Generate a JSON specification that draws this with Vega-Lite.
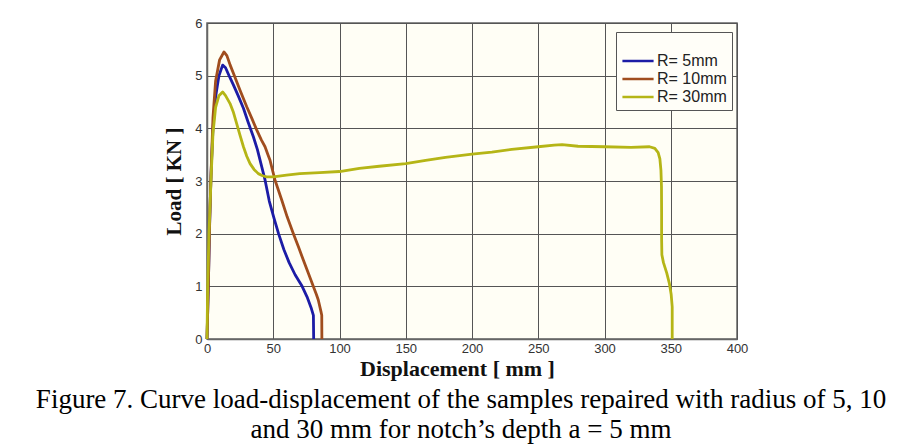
{
  "$schema": "https://vega.github.io/schema/vega-lite/v6.json",
  "width": 530,
  "height": 316,
  "autosize": {"type": "none"},
  "padding": {"left": 207, "top": 23, "right": 172, "bottom": 106},
  "background": "white",
  "title": {
    "text": ["Figure 7. Curve load-displacement of the samples repaired with  radius of 5, 10", "and 30 mm for notch’s depth  a = 5 mm"],
    "orient": "bottom",
    "frame": "group",
    "anchor": "middle",
    "dx": -11,
    "offset": 8,
    "font": "Liberation Serif",
    "fontSize": 27,
    "fontWeight": "normal",
    "color": "black",
    "lineHeight": 30
  },
  "data": {
    "values": [
      {"s": "R= 5mm", "i": 0, "x": 0, "y": 0},
      {"s": "R= 5mm", "i": 1, "x": 1, "y": 1.0},
      {"s": "R= 5mm", "i": 2, "x": 2, "y": 2.2},
      {"s": "R= 5mm", "i": 3, "x": 3, "y": 3.1},
      {"s": "R= 5mm", "i": 4, "x": 4.5, "y": 4.0},
      {"s": "R= 5mm", "i": 5, "x": 6.5, "y": 4.6},
      {"s": "R= 5mm", "i": 6, "x": 9, "y": 5.0},
      {"s": "R= 5mm", "i": 7, "x": 11.8, "y": 5.2},
      {"s": "R= 5mm", "i": 8, "x": 14, "y": 5.15},
      {"s": "R= 5mm", "i": 9, "x": 17, "y": 4.98},
      {"s": "R= 5mm", "i": 10, "x": 20, "y": 4.82},
      {"s": "R= 5mm", "i": 11, "x": 23.5, "y": 4.62},
      {"s": "R= 5mm", "i": 12, "x": 27.5, "y": 4.38},
      {"s": "R= 5mm", "i": 13, "x": 31, "y": 4.12},
      {"s": "R= 5mm", "i": 14, "x": 35, "y": 3.84},
      {"s": "R= 5mm", "i": 15, "x": 38, "y": 3.6},
      {"s": "R= 5mm", "i": 16, "x": 40, "y": 3.4},
      {"s": "R= 5mm", "i": 17, "x": 43.8, "y": 3.02},
      {"s": "R= 5mm", "i": 18, "x": 47, "y": 2.62},
      {"s": "R= 5mm", "i": 19, "x": 50.5, "y": 2.3},
      {"s": "R= 5mm", "i": 20, "x": 54, "y": 2.0},
      {"s": "R= 5mm", "i": 21, "x": 58, "y": 1.7},
      {"s": "R= 5mm", "i": 22, "x": 62, "y": 1.45},
      {"s": "R= 5mm", "i": 23, "x": 66.5, "y": 1.22},
      {"s": "R= 5mm", "i": 24, "x": 71.8, "y": 1.0},
      {"s": "R= 5mm", "i": 25, "x": 75.5, "y": 0.8},
      {"s": "R= 5mm", "i": 26, "x": 78.5, "y": 0.6},
      {"s": "R= 5mm", "i": 27, "x": 80.3, "y": 0.45},
      {"s": "R= 5mm", "i": 28, "x": 80.5, "y": 0},
      {"s": "R= 10mm", "i": 0, "x": 0, "y": 0},
      {"s": "R= 10mm", "i": 1, "x": 1, "y": 1.0},
      {"s": "R= 10mm", "i": 2, "x": 2, "y": 2.2},
      {"s": "R= 10mm", "i": 3, "x": 3, "y": 3.1},
      {"s": "R= 10mm", "i": 4, "x": 4.5, "y": 4.2},
      {"s": "R= 10mm", "i": 5, "x": 6.5, "y": 4.9},
      {"s": "R= 10mm", "i": 6, "x": 9.5, "y": 5.3},
      {"s": "R= 10mm", "i": 7, "x": 12.8, "y": 5.45},
      {"s": "R= 10mm", "i": 8, "x": 15, "y": 5.38},
      {"s": "R= 10mm", "i": 9, "x": 17.5, "y": 5.2},
      {"s": "R= 10mm", "i": 10, "x": 20, "y": 5.04},
      {"s": "R= 10mm", "i": 11, "x": 25, "y": 4.72},
      {"s": "R= 10mm", "i": 12, "x": 30, "y": 4.41},
      {"s": "R= 10mm", "i": 13, "x": 34, "y": 4.18},
      {"s": "R= 10mm", "i": 14, "x": 37.5, "y": 3.97},
      {"s": "R= 10mm", "i": 15, "x": 41, "y": 3.78},
      {"s": "R= 10mm", "i": 16, "x": 43.8, "y": 3.65},
      {"s": "R= 10mm", "i": 17, "x": 46, "y": 3.5},
      {"s": "R= 10mm", "i": 18, "x": 47.5, "y": 3.4},
      {"s": "R= 10mm", "i": 19, "x": 49.5, "y": 3.2},
      {"s": "R= 10mm", "i": 20, "x": 51.3, "y": 3.02},
      {"s": "R= 10mm", "i": 21, "x": 56.4, "y": 2.64},
      {"s": "R= 10mm", "i": 22, "x": 60.5, "y": 2.32},
      {"s": "R= 10mm", "i": 23, "x": 65.2, "y": 2.0},
      {"s": "R= 10mm", "i": 24, "x": 69, "y": 1.75},
      {"s": "R= 10mm", "i": 25, "x": 72.7, "y": 1.5},
      {"s": "R= 10mm", "i": 26, "x": 76.5, "y": 1.25},
      {"s": "R= 10mm", "i": 27, "x": 80.2, "y": 1.0},
      {"s": "R= 10mm", "i": 28, "x": 82.5, "y": 0.85},
      {"s": "R= 10mm", "i": 29, "x": 84, "y": 0.74},
      {"s": "R= 10mm", "i": 30, "x": 86.2, "y": 0.5},
      {"s": "R= 10mm", "i": 31, "x": 86.6, "y": 0.45},
      {"s": "R= 10mm", "i": 32, "x": 86.7, "y": 0},
      {"s": "R= 30mm", "i": 0, "x": 0, "y": 0},
      {"s": "R= 30mm", "i": 1, "x": 0.5, "y": 1.0},
      {"s": "R= 30mm", "i": 2, "x": 1.5, "y": 2.0},
      {"s": "R= 30mm", "i": 3, "x": 3, "y": 3.0},
      {"s": "R= 30mm", "i": 4, "x": 4.5, "y": 3.9},
      {"s": "R= 30mm", "i": 5, "x": 6.5, "y": 4.4},
      {"s": "R= 30mm", "i": 6, "x": 9, "y": 4.62},
      {"s": "R= 30mm", "i": 7, "x": 11.8, "y": 4.69},
      {"s": "R= 30mm", "i": 8, "x": 14, "y": 4.62},
      {"s": "R= 30mm", "i": 9, "x": 17.4, "y": 4.47},
      {"s": "R= 30mm", "i": 10, "x": 20, "y": 4.3},
      {"s": "R= 30mm", "i": 11, "x": 22.4, "y": 4.09},
      {"s": "R= 30mm", "i": 12, "x": 25, "y": 3.86},
      {"s": "R= 30mm", "i": 13, "x": 27.5, "y": 3.65},
      {"s": "R= 30mm", "i": 14, "x": 30, "y": 3.47},
      {"s": "R= 30mm", "i": 15, "x": 32.5, "y": 3.33},
      {"s": "R= 30mm", "i": 16, "x": 35.5, "y": 3.22},
      {"s": "R= 30mm", "i": 17, "x": 38.7, "y": 3.14},
      {"s": "R= 30mm", "i": 18, "x": 42, "y": 3.1},
      {"s": "R= 30mm", "i": 19, "x": 45, "y": 3.08},
      {"s": "R= 30mm", "i": 20, "x": 50, "y": 3.08},
      {"s": "R= 30mm", "i": 21, "x": 60, "y": 3.11},
      {"s": "R= 30mm", "i": 22, "x": 70, "y": 3.14},
      {"s": "R= 30mm", "i": 23, "x": 85, "y": 3.16},
      {"s": "R= 30mm", "i": 24, "x": 100, "y": 3.18},
      {"s": "R= 30mm", "i": 25, "x": 115, "y": 3.24},
      {"s": "R= 30mm", "i": 26, "x": 130, "y": 3.28},
      {"s": "R= 30mm", "i": 27, "x": 150, "y": 3.33},
      {"s": "R= 30mm", "i": 28, "x": 165, "y": 3.39},
      {"s": "R= 30mm", "i": 29, "x": 180, "y": 3.45},
      {"s": "R= 30mm", "i": 30, "x": 200, "y": 3.51},
      {"s": "R= 30mm", "i": 31, "x": 215, "y": 3.55},
      {"s": "R= 30mm", "i": 32, "x": 230, "y": 3.6},
      {"s": "R= 30mm", "i": 33, "x": 250, "y": 3.65},
      {"s": "R= 30mm", "i": 34, "x": 262, "y": 3.68},
      {"s": "R= 30mm", "i": 35, "x": 268, "y": 3.69},
      {"s": "R= 30mm", "i": 36, "x": 280, "y": 3.66},
      {"s": "R= 30mm", "i": 37, "x": 300, "y": 3.65},
      {"s": "R= 30mm", "i": 38, "x": 320, "y": 3.64},
      {"s": "R= 30mm", "i": 39, "x": 334, "y": 3.65},
      {"s": "R= 30mm", "i": 40, "x": 338, "y": 3.62},
      {"s": "R= 30mm", "i": 41, "x": 340.5, "y": 3.54},
      {"s": "R= 30mm", "i": 42, "x": 341.8, "y": 3.42},
      {"s": "R= 30mm", "i": 43, "x": 342.6, "y": 3.2},
      {"s": "R= 30mm", "i": 44, "x": 343, "y": 2.9},
      {"s": "R= 30mm", "i": 45, "x": 343.1, "y": 2.4},
      {"s": "R= 30mm", "i": 46, "x": 343.1, "y": 1.9},
      {"s": "R= 30mm", "i": 47, "x": 343.3, "y": 1.6},
      {"s": "R= 30mm", "i": 48, "x": 344.5, "y": 1.45},
      {"s": "R= 30mm", "i": 49, "x": 347, "y": 1.25},
      {"s": "R= 30mm", "i": 50, "x": 349, "y": 1.05},
      {"s": "R= 30mm", "i": 51, "x": 350.3, "y": 0.85},
      {"s": "R= 30mm", "i": 52, "x": 351.1, "y": 0.61},
      {"s": "R= 30mm", "i": 53, "x": 351.1, "y": 0}
    ]
  },
  "mark": {"type": "line", "strokeWidth": 2.8, "strokeJoin": "round", "clip": false},
  "encoding": {
    "x": {
      "field": "x", "type": "quantitative",
      "scale": {"domain": [0, 400], "nice": false, "zero": false},
      "axis": {
        "values": [0, 50, 100, 150, 200, 250, 300, 350, 400],
        "title": "Displacement [ mm ]",
        "titleFont": "Liberation Serif", "titleFontSize": 22, "titleFontWeight": "bold", "titleColor": "#111",
        "titlePadding": 3,
        "titleX": 250, "titleAlign": "center",
        "labelFont": "Liberation Sans", "labelFontSize": 13, "labelColor": "#333", "labelPadding": 3,
        "labelFlush": false,
        "ticks": false,
        "domainColor": "#666", "domainWidth": 1.5,
        "grid": true, "gridColor": "#555", "gridWidth": 1, "gridOpacity": 1
      }
    },
    "y": {
      "field": "y", "type": "quantitative",
      "scale": {"domain": [0, 6], "nice": false},
      "axis": {
        "values": [0, 1, 2, 3, 4, 5, 6],
        "title": "Load [ KN ]",
        "titleFont": "Liberation Serif", "titleFontSize": 21, "titleFontWeight": "bold", "titleColor": "#111",
        "titlePadding": 10,
        "labelFont": "Liberation Sans", "labelFontSize": 13, "labelColor": "#333", "labelPadding": 5,
        "labelFlush": false,
        "ticks": false,
        "domainColor": "#666", "domainWidth": 1.5,
        "grid": true, "gridColor": "#555", "gridWidth": 1, "gridOpacity": 1
      }
    },
    "color": {
      "field": "s", "type": "nominal",
      "scale": {"domain": ["R= 5mm", "R= 10mm", "R= 30mm"], "range": ["#1c1ca6", "#a04d1e", "#b5b516"]},
      "legend": {
        "title": " ",
        "titleFontSize": 10,
        "titlePadding": 4,
        "orient": "none",
        "legendX": 409,
        "legendY": 9,
        "padding": 5,
        "fillColor": "#fffef8",
        "strokeColor": "#555",
        "symbolType": "M-1.8,0H1.8",
        "symbolSize": 300,
        "symbolStrokeWidth": 2.5,
        "symbolOffset": 7,
        "labelFont": "Liberation Sans",
        "labelFontSize": 16,
        "labelColor": "#222",
        "labelOffset": 9,
        "rowPadding": 0
      }
    },
    "order": {"field": "i", "type": "quantitative"}
  },
  "config": {
    "view": {"fill": "#fffef5", "stroke": "#666", "strokeWidth": 1.5}
  }
}
